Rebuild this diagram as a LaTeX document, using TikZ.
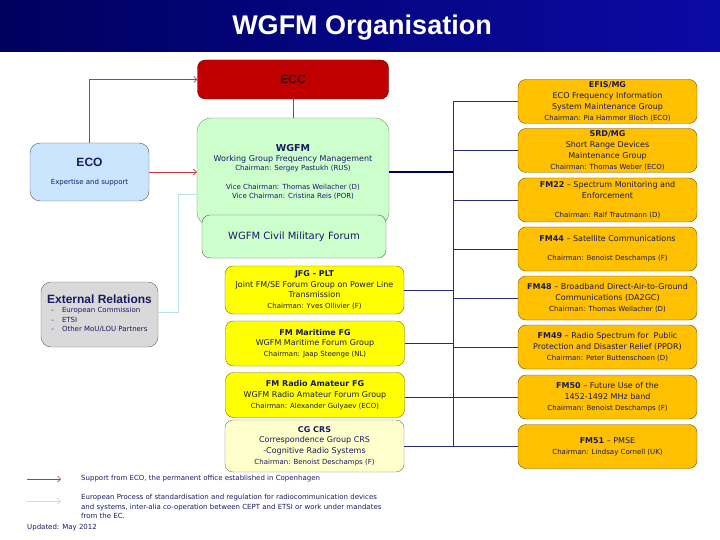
\documentclass[tikz,border=0pt]{standalone}
\usepackage{fontspec}
\setmainfont{DejaVu Sans}
\newfontfamily\arialfont{Liberation Sans}
\usetikzlibrary{arrows.meta,positioning,calc}

\definecolor{wgnavy}{RGB}{25,25,100}
\definecolor{wgtitlel}{RGB}{0,0,95}
\definecolor{wgtitler}{RGB}{10,10,165}
\definecolor{wgred}{RGB}{192,0,0}
\definecolor{wgdarkred}{RGB}{85,0,0}
\definecolor{wgecctext}{RGB}{60,0,10}
\definecolor{wggreen}{RGB}{204,255,204}
\definecolor{wgblue}{RGB}{204,229,255}
\definecolor{wggray}{RGB}{217,217,217}
\definecolor{wgorange}{RGB}{255,192,0}
\definecolor{wgyellow}{RGB}{255,255,0}
\definecolor{wgpale}{RGB}{255,255,204}
\definecolor{wgbus}{RGB}{40,40,130}
\definecolor{wglink}{RGB}{100,80,130}
\definecolor{wgarrow}{RGB}{200,50,60}
\definecolor{wgcyan}{RGB}{185,228,230}

\newcommand{\chairln}[1]{{\fontsize{7}{10.7}\selectfont #1}}

\begin{document}
\begin{tikzpicture}[x=1pt,y=-1pt,
  box/.style={draw,rounded corners=8pt,inner sep=0pt,align=center,text=wgnavy,
    font=\fontsize{8}{10.7}\selectfont},
  wgbox/.style={box,fill=wgorange,draw=black!55!wgorange,minimum width=179pt,minimum height=44pt},
  fgbox/.style={box,fill=wgyellow,draw=black!55!wgyellow,minimum width=179pt,minimum height=45pt},
  bus/.style={wgbus,line width=0.8pt},
  supp/.style={wgarrow,line width=0.6pt,-{Straight Barb[length=3pt,width=6pt]}},
  eur/.style={wgcyan,line width=0.8pt,-{Straight Barb[length=3pt,width=6pt]}},
  legend/.style={inner sep=0pt,text=wgnavy,font=\fontsize{7}{9.5}\selectfont,align=left}
]
  \useasboundingbox (0,0) rectangle (720,540);
  \shade[left color=wgtitlel,right color=wgtitler] (0,0) rectangle (720,52);
  \node[text=white,font=\arialfont\bfseries\fontsize{27}{30}\selectfont] (title) at (362,28) {WGFM Organisation};

  % main groups
  \node[box,fill=wgred,draw=wgdarkred,minimum width=191pt,minimum height=39pt,
    text=wgecctext,font=\arialfont\bfseries\fontsize{12}{14}\selectfont] (ecc) at (293,79.5) {ECC};
  \node[box,rounded corners=14pt,fill=wggreen,draw=black!45!wggreen,minimum width=192pt,minimum height=108pt] (wgfm) at (293,172)
    {{\bfseries\fontsize{9.5}{11}\selectfont WGFM}\\[-1pt]
     Working Group Frequency Management\\[-1pt]
     \chairln{Chairman: Sergey Pastukh (RUS)}\\[8pt]
     \chairln{Vice Chairman: Thomas Weilacher (D)}\\[-1.5pt]
     \chairln{Vice Chairman: Cristina Reis (POR)}};
  \node[box,fill=wggreen,draw=black!60!wggreen,minimum width=184pt,minimum height=43pt,
    font=\fontsize{10}{12}\selectfont] (cmf) at (294,236.5) {WGFM Civil Military Forum};
  \node[box,rounded corners=10pt,fill=wgblue,draw=black!60!wgblue,minimum width=119pt,minimum height=58pt] (eco) at (89.5,172)
    {{\arialfont\bfseries\fontsize{12}{14}\selectfont ECO}\\[8pt]\chairln{Expertise and support}};
  \node[draw,rounded corners=10pt,inner sep=0pt,fill=wggray,draw=black!55!wggray,text=wgnavy,
    minimum width=117pt,minimum height=65pt] (extrel) at (99.5,314.5)
    {\begin{tabular}{@{}c@{}}
     {\arialfont\bfseries\fontsize{12}{12}\selectfont External Relations}\\[-1pt]
     \fontsize{7}{9.3}\selectfont
     \begin{tabular}{@{}l@{\hspace{8pt}}l@{}}
       - & European Commission\\
       - & ETSI\\
       - & Other MoU/LOU Partners
     \end{tabular}
     \end{tabular}};

  % project teams
  \node[wgbox] (efis) at (607.5,101.5)
    {\textbf{EFIS/MG}\\ECO Frequency Information\\System Maintenance Group\\\chairln{Chairman: Pia Hammer Bloch (ECO)}};
  \node[wgbox] (srd) at (607.5,150.5)
    {\textbf{SRD/MG}\\Short Range Devices\\Maintenance Group\\\chairln{Chairman: Thomas Weber (ECO)}};
  \node[wgbox] (fm22) at (607.5,200)
    {\textbf{FM22} -- Spectrum Monitoring and\\Enforcement\\[9pt]\chairln{Chairman: Ralf Trautmann (D)}};
  \node[wgbox] (fm44) at (607.5,249)
    {\textbf{FM44} -- Satellite Communications\\[8pt]\chairln{Chairman: Benoist Deschamps (F)}};
  \node[wgbox] (fm48) at (607.5,298)
    {\textbf{FM48} -- Broadband Direct-Air-to-Ground\\Communications (DA2GC)\\\chairln{Chairman: Thomas Weilacher (D)}};
  \node[wgbox] (fm49) at (607.5,347)
    {\textbf{FM49} -- Radio Spectrum for\ \ Public\\Protection and Disaster Relief (PPDR)\\\chairln{Chairman: Peter Buttenschoen (D)}};
  \node[wgbox] (fm50) at (607.5,397)
    {\textbf{FM50} -- Future Use of the\\1452-1492 MHz band\\\chairln{Chairman: Benoist Deschamps (F)}};
  \node[wgbox] (fm51) at (607.5,446.5)
    {\textbf{FM51} -- PMSE\\\chairln{Chairman: Lindsay Cornell (UK)}};

  % forum groups
  \node[fgbox,minimum height=48pt] (jfg) at (314.5,290)
    {\textbf{JFG - PLT}\\Joint FM/SE Forum Group on Power Line\\Transmission\\\chairln{Chairman: Yves Ollivier (F)}};
  \node[fgbox] (maritime) at (315,343.5)
    {\textbf{FM Maritime FG}\\WGFM Maritime Forum Group\\\chairln{Chairman: Jaap Steenge (NL)}};
  \node[fgbox] (radio) at (315,395)
    {\textbf{FM Radio Amateur FG}\\WGFM Radio Amateur Forum Group\\\chairln{Chairman: Alexander Gulyaev (ECO)}};
  \node[fgbox,fill=wgpale,draw=black!55!wgpale,minimum height=52pt] (cgcrs) at (314.5,446)
    {\textbf{CG CRS}\\Correspondence Group CRS\\-Cognitive Radio Systems\\\chairln{Chairman: Benoist Deschamps (F)}};

  % connectors
  \coordinate (bus) at (453,172);
  \draw[wglink,line width=0.8pt] (ecc.south) -- (wgfm.north);
  \draw[bus] (bus |- efis.west) -- (bus |- fm51.west);
  \foreach \grp in {efis,srd,fm22,fm44,fm48,fm49,fm50,fm51}
    \draw[bus] (bus |- \grp.west) -- (\grp.west);
  \draw[bus,line width=1.4pt,draw=wgtitlel] (wgfm.east) -- (wgfm.east -| bus);
  \draw[bus] (jfg.east) -- (jfg.east -| bus);
  \draw[bus] (maritime.east) -- (maritime.east -| bus);
  \draw[bus] (radio.east |- fm50.west) -- (fm50.west);
  \draw[bus] (cgcrs.east |- fm51.west) -- (fm51.west);

  \draw[supp] (eco.north) |- (ecc.west);
  \draw[supp] (eco.east) -- (eco.east -| wgfm.west);
  \coordinate (eurbend) at (178,194);
  \draw[wgcyan,line width=0.8pt] (extrel.east |- 0,312) -| (eurbend) -- (eurbend -| wgfm.west);

  % legend
  \coordinate (legsa) at (27,479);
  \coordinate (legsb) at (61,479);
  \coordinate (legea) at (27,501);
  \coordinate (legeb) at (61,501);
  \draw[supp] (legsa) -- (legsb);
  \draw[eur] (legea) -- (legeb);
  \node[legend,anchor=west] (legsupp) at (81,479)
    {Support from ECO, the permanent office established in Copenhagen};
  \node[legend,anchor=north west] (legeur) at (81,494)
    {European Process of standardisation and regulation for radiocommunication devices\\
     and systems, inter-alia co-operation between CEPT and ETSI or work under mandates\\
     from the EC.};
  \node[legend,anchor=west] (updated) at (27,528) {Updated: May 2012};
\end{tikzpicture}
\end{document}
